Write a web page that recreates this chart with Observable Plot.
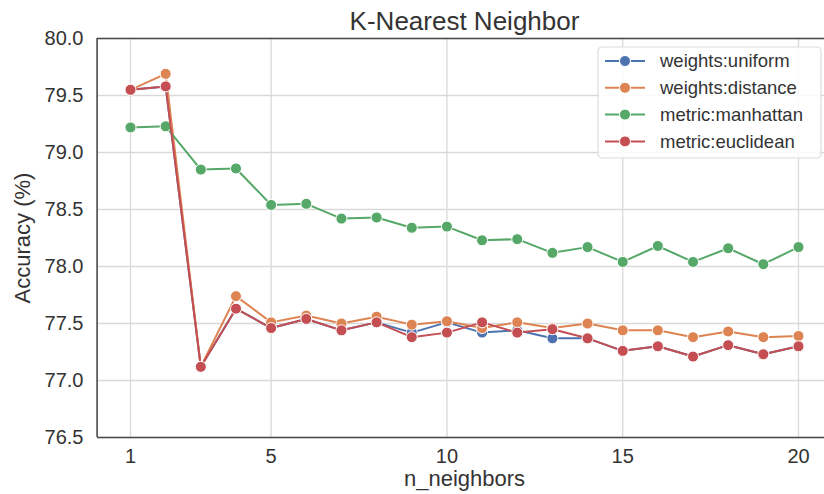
<!DOCTYPE html>
<html>
<head>
<meta charset="utf-8">
<script src="https://cdn.jsdelivr.net/npm/d3@7"></script>
<script src="https://cdn.jsdelivr.net/npm/@observablehq/plot@0.6"></script>
<style>
  html, body { margin: 0; padding: 0; background: #fff; }
  #chart { width: 824px; height: 494px; overflow: hidden; }
</style>
</head>
<body>
<div id="chart"></div>
<script>
const title = "K-Nearest Neighbor";
const xLabel = "n_neighbors";
const yLabel = "Accuracy (%)";
const nNeighbors = [1,2,3,4,5,6,7,8,9,10,11,12,13,14,15,16,17,18,19,20];
const xTicks = [1, 5, 10, 15, 20];
const yTicks = [76.5, 77.0, 77.5, 78.0, 78.5, 79.0, 79.5, 80.0];
const seriesNames = ["weights:uniform", "weights:distance", "metric:manhattan", "metric:euclidean"];
const seriesColors = ["#4c72b0", "#dd8452", "#55a868", "#c44e52"];
const uniform   = [79.55,79.58,77.12,77.63,77.46,77.54,77.44,77.51,77.42,77.51,77.42,77.44,77.37,77.37,77.26,77.30,77.21,77.31,77.23,77.30];
const distance  = [79.55,79.69,77.12,77.74,77.51,77.57,77.50,77.56,77.49,77.52,77.46,77.51,77.46,77.50,77.44,77.44,77.38,77.43,77.38,77.39];
const manhattan = [79.22,79.23,78.85,78.86,78.54,78.55,78.42,78.43,78.34,78.35,78.23,78.24,78.12,78.17,78.04,78.18,78.04,78.16,78.02,78.17];
const euclidean = [79.55,79.58,77.12,77.63,77.46,77.54,77.44,77.51,77.38,77.42,77.51,77.42,77.45,77.37,77.26,77.30,77.21,77.31,77.23,77.30];

const seriesValues = [uniform, distance, manhattan, euclidean];
const data = seriesNames.map((name, i) =>
  nNeighbors.map((n, j) => ({series: name, n, acc: seriesValues[i][j]})));

const font = "'Liberation Sans', Arial, 'DejaVu Sans', sans-serif";
const seriesMarks = data.flatMap(rows => [
  Plot.line(rows, {x: "n", y: "acc", stroke: "series", strokeWidth: 2}),
  Plot.dot(rows, {x: "n", y: "acc", fill: "series", r: 5.5, stroke: "#fff", strokeWidth: 1})
]);

const chart = Plot.plot({
  width: 824,
  height: 494,
  marginLeft: 97,
  marginTop: 38,
  marginBottom: 57,
  marginRight: 0,
  style: {fontFamily: font, background: "#fff", color: "#333"},
  x: {domain: [0.05, 20.95], range: [96.6, 831.4]},
  y: {domain: [76.5, 80.0]},
  color: {domain: seriesNames, range: seriesColors},
  marks: [
    Plot.gridX(xTicks, {stroke: "#d9d9d9", strokeOpacity: 1, strokeWidth: 1.3}),
    Plot.gridY(yTicks, {stroke: "#d9d9d9", strokeOpacity: 1, strokeWidth: 1.3}),
    Plot.axisX(xTicks, {tickSize: 0, tickPadding: 11, fontSize: 20, label: null, fill: "#333"}),
    Plot.axisY(yTicks, {tickSize: 0, tickPadding: 14, fontSize: 20, label: null, fill: "#333", tickFormat: d => d.toFixed(1)}),
    Plot.ruleX([0.05], {stroke: "#4a4a4a", strokeWidth: 1.6}),
    Plot.ruleY([76.5, 80.0], {stroke: "#4a4a4a", strokeWidth: 1.6}),
    ...seriesMarks,
    Plot.text([title], {x: [10.5], frameAnchor: "top", dy: -17, fontSize: 26, fill: "#333", lineAnchor: "middle", textAnchor: "middle"}),
    Plot.text([xLabel], {x: [10.5], frameAnchor: "bottom", dy: 41, fontSize: 22, fill: "#333", lineAnchor: "middle", textAnchor: "middle"}),
    Plot.text([yLabel], {frameAnchor: "left", dx: -75, rotate: -90, fontSize: 22, fill: "#333", lineAnchor: "middle", textAnchor: "middle"})
  ]
});

document.getElementById("chart").appendChild(chart);

// Legend drawn inside the plot, top-right
const svg = d3.select(chart);
const lg = svg.append("g").attr("transform", "translate(598,47)").attr("font-family", font);
lg.append("rect").attr("width", 223).attr("height", 111).attr("rx", 4)
  .attr("fill", "#fff").attr("fill-opacity", 0.85).attr("stroke", "#dcdcdc").attr("stroke-width", 1.2);
seriesNames.forEach((name, i) => {
  const cy = 14 + i * 26.8;
  lg.append("line").attr("x1", 7).attr("x2", 47).attr("y1", cy).attr("y2", cy)
    .attr("stroke", seriesColors[i]).attr("stroke-width", 2);
  lg.append("circle").attr("cx", 27).attr("cy", cy).attr("r", 5.5)
    .attr("fill", seriesColors[i]).attr("stroke", "#fff").attr("stroke-width", 1);
  lg.append("text").attr("x", 62).attr("y", cy).attr("dy", "0.35em")
    .attr("text-anchor", "start")
    .attr("font-size", 18.5).attr("fill", "#333").text(name);
});
</script>
</body>
</html>
